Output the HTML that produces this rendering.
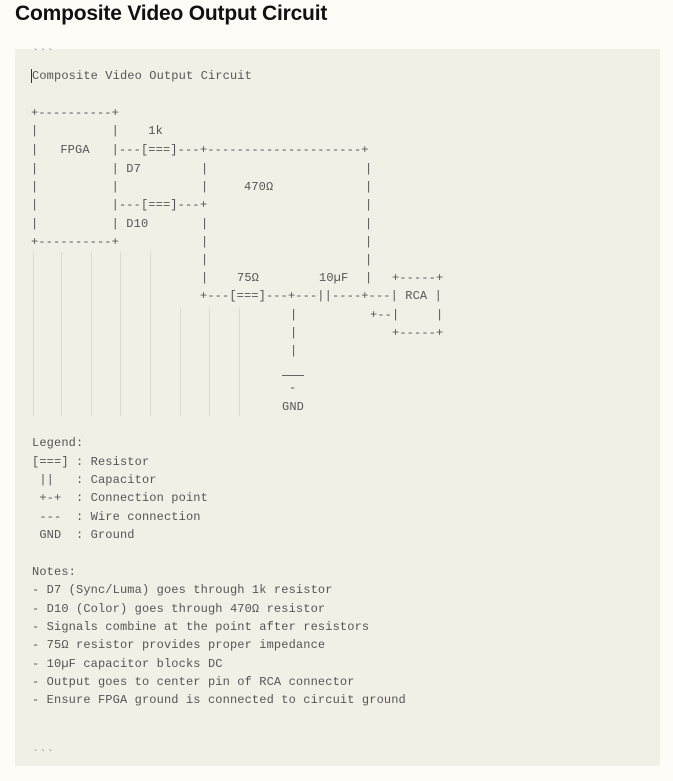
<!DOCTYPE html>
<html><head><meta charset="utf-8"><style>
html,body{margin:0;padding:0;background:#fdfcf6;width:673px;height:781px;overflow:hidden}
#root{position:relative;width:673px;height:781px}
h1{position:absolute;left:15px;top:2px;margin:0;font:bold 21px "Liberation Sans",sans-serif;letter-spacing:-0.2px;color:#111;z-index:2}
.blk{position:absolute;left:15px;top:49px;width:645px;height:717px;background:#f2efe6;z-index:0}
#layer{position:absolute;left:0;top:0;width:673px;height:781px;z-index:5}
.t{position:absolute;font-family:"Liberation Mono","DejaVu Sans Mono",monospace;font-size:12px;line-height:18px;letter-spacing:0.13px;color:#555;white-space:pre;margin:0}
.v{position:absolute;width:1px;background:#dcd9d0}
</style></head><body><div id="root">
<h1>Composite Video Output Circuit</h1>
<div class="blk"></div>
<div id="layer">
<div class="t" style="left:32px;top:45px;color:#888">&#96;&#96;&#96;</div>
<div class="t" style="left:32px;top:67px">Composite Video Output Circuit</div>
<div style="position:absolute;left:31px;top:69px;width:1px;height:14px;background:#333"></div>

<div class="t" style="left:31px;top:104px">+----------+</div>
<div class="t" style="left:31px;top:122px">|          |    1k</div>
<div class="t" style="left:31px;top:141px">|   FPGA   |---[===]---</div>
<div class="t" style="left:31px;top:160px">|          | D7</div>
<div class="t" style="left:31px;top:178px">|          |</div>
<div class="t" style="left:31px;top:196px">|          |---[===]---</div>
<div class="t" style="left:31px;top:215px">|          | D10</div>
<div class="t" style="left:31px;top:233px">+----------+</div>

<div class="t" style="left:200px;top:141px">+---------------------+</div>
<div class="t" style="left:200px;top:196px">+</div>
<div class="t" style="left:201px;top:160px">|</div>
<div class="t" style="left:201px;top:178px">|</div>
<div class="t" style="left:201px;top:215px">|</div>
<div class="t" style="left:201px;top:233px">|</div>
<div class="t" style="left:201px;top:251px">|</div>
<div class="t" style="left:201px;top:269px">|</div>
<div class="t" style="left:365px;top:160px">|</div>
<div class="t" style="left:365px;top:178px">|</div>
<div class="t" style="left:365px;top:196px">|</div>
<div class="t" style="left:365px;top:215px">|</div>
<div class="t" style="left:365px;top:233px">|</div>
<div class="t" style="left:365px;top:251px">|</div>
<div class="t" style="left:365px;top:269px">|</div>
<div class="t" style="left:244px;top:178px">470Ω</div>
<div class="t" style="left:237px;top:269px">75Ω</div>
<div class="t" style="left:319px;top:269px">10µF</div>
<div class="t" style="left:392px;top:269px">+-----+</div>
<div class="t" style="left:200px;top:287px">+---[===]---+---||----+---| RCA |</div>
<div class="t" style="left:290px;top:306px">|</div>
<div class="t" style="left:370px;top:306px">+--|     |</div>
<div class="t" style="left:290px;top:324px">|</div>
<div class="t" style="left:392px;top:324px">+-----+</div>
<div class="t" style="left:290px;top:342px">|</div>
<div style="position:absolute;left:282px;top:375px;width:22px;height:1px;background:#666"></div>
<div class="t" style="left:289px;top:379px">-</div>
<div class="t" style="left:282px;top:398px">GND</div>

<div class="v" style="left:33px;top:252px;height:164px"></div>
<div class="v" style="left:61px;top:252px;height:164px"></div>
<div class="v" style="left:91px;top:252px;height:164px"></div>
<div class="v" style="left:120px;top:252px;height:164px"></div>
<div class="v" style="left:150px;top:252px;height:164px"></div>
<div class="v" style="left:180px;top:308px;height:108px"></div>
<div class="v" style="left:209px;top:308px;height:108px"></div>
<div class="v" style="left:239px;top:308px;height:108px"></div>

<div class="t" style="left:32px;top:434px">Legend:</div>
<div class="t" style="left:32px;top:453px">[===] : Resistor</div>
<div class="t" style="left:32px;top:471px"> ||   : Capacitor</div>
<div class="t" style="left:32px;top:489px"> +-+  : Connection point</div>
<div class="t" style="left:32px;top:508px"> ---  : Wire connection</div>
<div class="t" style="left:32px;top:526px"> GND  : Ground</div>
<div class="t" style="left:32px;top:563px">Notes:</div>
<div class="t" style="left:32px;top:581px">- D7 (Sync/Luma) goes through 1k resistor</div>
<div class="t" style="left:32px;top:600px">- D10 (Color) goes through 470Ω resistor</div>
<div class="t" style="left:32px;top:618px">- Signals combine at the point after resistors</div>
<div class="t" style="left:32px;top:636px">- 75Ω resistor provides proper impedance</div>
<div class="t" style="left:32px;top:655px">- 10µF capacitor blocks DC</div>
<div class="t" style="left:32px;top:673px">- Output goes to center pin of RCA connector</div>
<div class="t" style="left:32px;top:691px">- Ensure FPGA ground is connected to circuit ground</div>
<div class="t" style="left:32px;top:746px;color:#888">&#96;&#96;&#96;</div>
</div>
</div></body></html>
